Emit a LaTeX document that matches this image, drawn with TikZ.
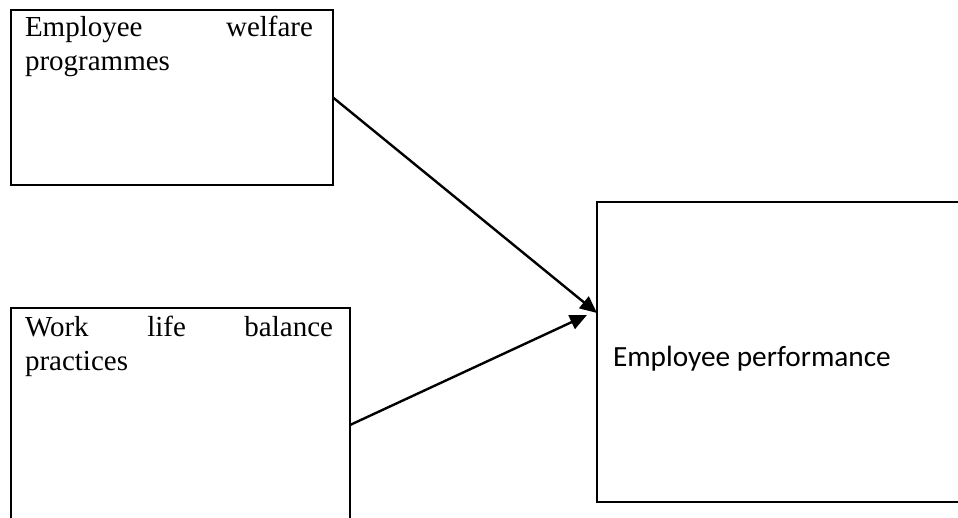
\documentclass[tikz,border=0pt]{standalone}
\usepackage{fontspec}
\setmainfont{Liberation Serif}
\newfontfamily\calib{Carlito}
\usetikzlibrary{arrows.meta}
\tikzset{
  box/.style={draw, line width=2.2pt, rectangle, inner sep=0pt, outer sep=0pt},
  txt/.style={inner sep=0pt, outer sep=0pt, anchor=base west},
  link/.style={line width=2.4pt, -{Triangle[length=17pt,width=15pt]}}
}
\begin{document}
\begin{tikzpicture}[x=1pt,y=-1pt]
\useasboundingbox (0,0) rectangle (958,517);
\node[box, minimum width=322pt, minimum height=175pt] (b1) at (172,97.5) {};
\node[box, minimum width=339pt, minimum height=234pt] (b2) at (180.5,425) {};
\node[box, minimum width=403pt, minimum height=300pt] (b3) at (798.5,352) {};
\node[txt] (t1) at (25,36) {\fontsize{29}{34}\selectfont\parbox[t]{288pt}{\makebox[288pt][s]{Employee\hfill welfare}\\programmes}};
\node[txt] (t2) at (25,336) {\fontsize{29}{34}\selectfont\parbox[t]{308pt}{\makebox[308pt][s]{Work\hfill life\hfill balance}\\practices}};
\node[txt] (t3) at (613,366) {\calib\fontsize{29.3}{34}\selectfont Employee performance};
\coordinate (e1) at ([yshift=39pt]b3.west);
\coordinate (e2) at ([xshift=-10pt,yshift=37pt]b3.west);
\draw[link] (b1.east) -- (e1);
\draw[link] (b2.east) -- (e2);
\end{tikzpicture}
\end{document}
